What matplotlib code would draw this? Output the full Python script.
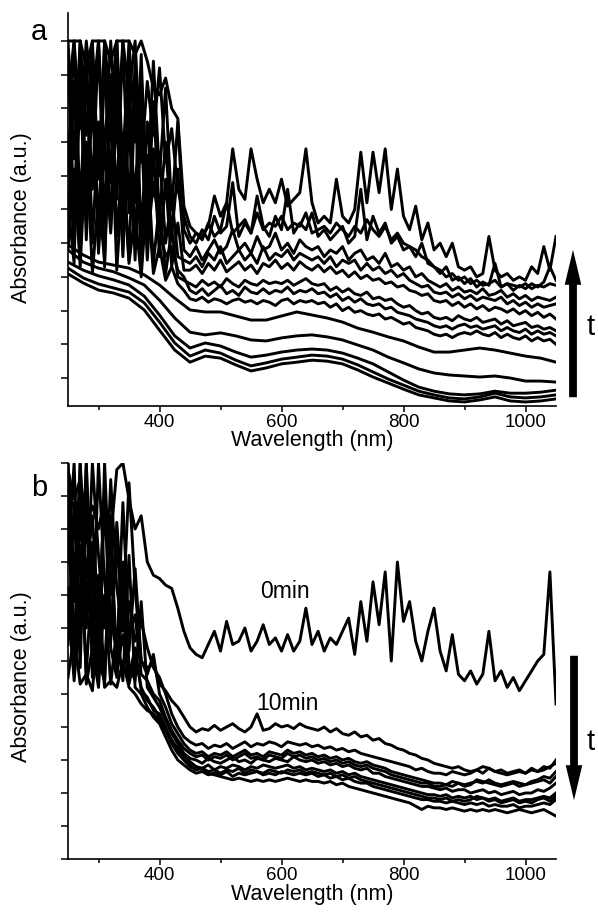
import matplotlib

matplotlib.use("Agg")
import matplotlib.pyplot as plt
from matplotlib.patches import FancyArrowPatch

plt.rcParams["font.family"] = ["Liberation Sans", "DejaVu Sans"]

# wavelength grids (nm)
WL = list(range(250, 1051, 10))
WL_COARSE = list(range(250, 1051, 25))

# ---- panel a: absorbance (a.u., one unit = one y tick), growing with time ----
# smoother low-absorbance spectra, sampled every 25 nm
a_early_1 = [3.09, 2.82, 2.61, 2.52, 2.37, 2.02, 1.42, 0.83, 0.47, 0.65, 0.59, 0.39, 0.21,
             0.30, 0.42, 0.47, 0.53, 0.50, 0.42, 0.24, 0.03, -0.15, -0.33, -0.50, -0.59,
             -0.68, -0.71, -0.65, -0.56, -0.68, -0.71, -0.68, -0.62]
a_early_2 = [3.26, 2.97, 2.79, 2.67, 2.55, 2.23, 1.66, 1.04, 0.65, 0.83, 0.74, 0.53, 0.36,
             0.45, 0.56, 0.62, 0.68, 0.65, 0.56, 0.39, 0.18, -0.03, -0.21, -0.39, -0.50,
             -0.59, -0.62, -0.56, -0.45, -0.56, -0.59, -0.56, -0.50]
a_early_3 = [3.44, 3.20, 3.03, 2.91, 2.76, 2.43, 1.87, 1.25, 0.89, 1.04, 0.95, 0.77, 0.62,
             0.68, 0.77, 0.83, 0.86, 0.83, 0.74, 0.59, 0.42, 0.18, -0.06, -0.27, -0.39,
             -0.47, -0.50, -0.47, -0.39, -0.45, -0.45, -0.42, -0.36]
a_early_4 = [3.80, 3.44, 3.26, 3.15, 2.97, 2.76, 2.31, 1.78, 1.36, 1.28, 1.34, 1.25, 1.13,
             1.10, 1.19, 1.25, 1.28, 1.22, 1.13, 0.98, 0.83, 0.62, 0.45, 0.27, 0.15,
             0.09, 0.06, 0.03, 0.06, 0.00, -0.09, -0.09, -0.12]
a_early_5 = [3.95, 3.65, 3.44, 3.35, 3.26, 3.06, 2.76, 2.37, 2.02, 1.96, 1.96, 1.84, 1.72,
             1.72, 1.84, 1.96, 1.87, 1.78, 1.66, 1.48, 1.36, 1.22, 1.10, 0.92, 0.77,
             0.77, 0.83, 0.89, 0.83, 0.74, 0.65, 0.59, 0.47]

# noisy later spectra, sampled every 10 nm
a_late_1 = [3.8, 6.2, 3.3, 7.0, 3.1, 5.4, 3.5, 8.2, 3.2, 6.1, 3.4, 4.9, 3.0, 5.6, 3.1, 3.9, 2.9, 3.3, 2.8, 2.6,
            2.35, 2.3, 2.4, 2.25, 2.35, 2.3, 2.2, 2.3, 2.35, 2.25, 2.3, 2.2, 2.3, 2.25, 2.15, 2.3, 2.35, 2.2, 2.3, 2.25, 2.3,
            2.2, 2.25, 2.1, 2.2, 2.0, 2.1, 1.95, 2.0, 1.9, 1.85, 1.9, 1.75, 1.8, 1.7, 1.6, 1.65, 1.5, 1.45, 1.4, 1.3,
            1.25, 1.3, 1.2, 1.3, 1.35, 1.3, 1.4, 1.3, 1.25, 1.35, 1.2, 1.3, 1.2, 1.15, 1.25, 1.1, 1.2, 1.1, 1.15, 1.0]
a_late_2 = [7.2, 3.9, 8.6, 4.6, 9.8, 3.7, 6.9, 4.3, 9.1, 3.8, 7.7, 3.5, 8.3, 4.0, 5.8, 4.5, 3.6, 3.9, 3.2, 3.0,
            2.6, 2.5, 2.65, 2.45, 2.6, 2.75, 2.5, 2.6, 2.45, 2.7, 2.55, 2.5, 2.65, 2.5, 2.6, 2.55, 2.7, 2.5, 2.6, 2.55, 2.65,
            2.5, 2.55, 2.4, 2.5, 2.3, 2.4, 2.25, 2.35, 2.2, 2.15, 2.2, 2.05, 2.1, 1.95, 1.9, 1.85, 1.75, 1.7, 1.65, 1.55,
            1.5, 1.55, 1.45, 1.55, 1.6, 1.5, 1.55, 1.45, 1.5, 1.55, 1.4, 1.5, 1.4, 1.35, 1.45, 1.3, 1.4, 1.3, 1.35, 1.25]
a_late_3 = [4.5, 8.8, 3.6, 9.5, 4.0, 7.6, 3.3, 9.0, 4.2, 6.8, 3.5, 8.5, 3.2, 6.6, 3.4, 5.2, 3.1, 4.4, 3.0, 2.9,
            2.8, 2.7, 2.9, 2.75, 2.85, 2.7, 2.95, 2.8, 2.7, 2.9, 2.8, 2.75, 2.9, 2.8, 2.85, 2.8, 2.9, 2.75, 2.85, 2.95, 2.8,
            2.75, 2.8, 2.6, 2.7, 2.55, 2.65, 2.5, 2.45, 2.55, 2.35, 2.4, 2.3, 2.35, 2.2, 2.1, 2.15, 2.0, 1.9, 1.95, 1.8,
            1.75, 1.8, 1.7, 1.85, 1.75, 1.7, 1.8, 1.65, 1.7, 1.75, 1.6, 1.7, 1.55, 1.6, 1.65, 1.5, 1.55, 1.45, 1.5, 1.4]
a_late_4 = [5.2, 3.4, 9.8, 4.1, 8.4, 3.8, 10.0, 4.4, 7.9, 3.6, 9.2, 4.0, 7.4, 3.5, 6.8, 3.6, 5.9, 3.3, 4.6, 3.2,
            3.2, 3.35, 3.1, 3.4, 3.2, 3.5, 3.15, 3.3, 3.45, 3.2, 3.35, 3.1, 3.4, 3.3, 3.5, 3.25, 3.4, 3.2, 3.45, 3.3, 3.2,
            3.35, 3.15, 3.3, 3.1, 3.2, 3.0, 3.15, 2.95, 3.05, 2.9, 2.95, 2.8, 2.85, 2.7, 2.75, 2.6, 2.55, 2.45, 2.5, 2.3,
            2.25, 2.3, 2.15, 2.25, 2.1, 2.2, 2.05, 2.15, 2.0, 2.1, 2.05, 1.95, 2.05, 1.9, 2.0, 1.85, 1.95, 1.8, 1.9, 1.75]
a_late_5 = [8.4, 10.0, 5.0, 9.2, 5.6, 10.0, 4.6, 8.8, 5.3, 10.0, 4.9, 9.4, 4.2, 7.6, 5.4, 6.6, 4.0, 5.4, 3.6, 3.5,
            3.4, 3.6, 3.3, 3.7, 3.5, 3.9, 3.4, 3.6, 3.8, 3.5, 3.7, 3.4, 3.9, 3.5, 3.7, 3.6, 3.8, 3.5, 3.7, 3.6, 3.5,
            3.6, 3.4, 3.6, 3.3, 3.5, 3.4, 3.5, 3.2, 3.4, 3.2, 3.3, 3.1, 3.2, 3.0, 3.1, 2.9, 2.8, 2.7, 2.75, 2.55,
            2.5, 2.55, 2.4, 2.5, 2.35, 2.45, 2.3, 2.4, 2.35, 2.3, 2.4, 2.2, 2.3, 2.15, 2.25, 2.1, 2.2, 2.1, 2.15, 2.2]
a_late_6 = [9.6, 4.8, 10.0, 5.5, 9.0, 4.2, 9.4, 5.8, 10.0, 4.6, 8.0, 5.2, 9.6, 4.4, 8.2, 4.8, 7.0, 4.2, 6.2, 3.8,
            3.6, 3.9, 3.5, 3.8, 4.1, 3.7, 3.9, 4.4, 3.8, 4.0, 3.7, 4.2, 3.8, 3.9, 4.3, 3.8, 4.0, 3.7, 4.1, 3.9, 3.8,
            3.9, 3.6, 3.8, 3.7, 3.9, 3.5, 3.7, 3.8, 3.5, 3.6, 3.4, 3.7, 3.3, 3.4, 3.2, 3.3, 3.0, 3.1, 2.9, 2.8,
            2.7, 2.8, 2.6, 2.7, 2.55, 2.6, 2.5, 2.65, 2.45, 2.5, 2.6, 2.4, 2.5, 2.35, 2.45, 2.3, 2.4, 2.35, 2.3, 2.4]
a_late_7 = [6.0, 10.0, 7.4, 10.0, 8.2, 10.0, 6.6, 10.0, 7.0, 10.0, 8.4, 10.0, 6.4, 8.8, 7.2, 9.2, 6.4, 7.4, 5.6, 4.8,
            4.2, 4.0, 4.4, 4.1, 4.8, 4.3, 4.5, 5.8, 4.2, 4.6, 4.3, 5.4, 4.5, 4.2, 4.8, 4.4, 5.6, 4.3, 4.6, 4.4, 4.9,
            4.2, 4.4, 4.1, 4.3, 4.5, 4.0, 4.2, 5.6, 4.1, 4.8, 4.3, 4.6, 4.0, 4.2, 3.8, 3.9, 3.6, 4.0, 3.4, 3.3,
            3.1, 3.3, 2.9, 3.0, 2.8, 2.95, 2.7, 2.85, 2.75, 3.4, 2.7, 2.8, 2.6, 2.75, 2.65, 2.8, 2.7, 2.85, 3.3, 2.9]
a_late_8 = [10.0, 6.5, 10.0, 7.2, 10.0, 5.9, 10.0, 8.0, 10.0, 6.4, 10.0, 7.0, 9.0, 5.6, 9.4, 6.0, 8.6, 5.0, 7.6, 4.4,
            4.0, 4.3, 4.1, 4.6, 4.2, 4.4, 5.2, 4.3, 4.5, 4.7, 4.3, 4.9, 4.4, 4.6, 4.5, 4.8, 4.4, 4.6, 4.5, 4.9, 4.3,
            4.4, 4.5, 4.3, 4.6, 4.4, 4.2, 4.5, 4.3, 4.7, 4.4, 4.2, 4.5, 4.1, 4.3, 4.0, 3.9, 3.8, 3.6, 3.5, 3.3,
            3.2, 3.0, 3.1, 2.9, 3.0, 2.8, 2.9, 2.75, 2.8, 2.9, 2.7, 2.8, 2.75, 2.7, 2.8, 2.65, 2.75, 2.7, 2.8, 2.75]
a_late_9 = [10.0, 10.0, 10.0, 9.2, 10.0, 10.0, 10.0, 9.4, 10.0, 10.0, 10.0, 9.6, 10.0, 9.4, 8.6, 8.4, 8.9, 8.0, 7.7, 5.1,
            4.5, 4.3, 4.2, 4.5, 5.4, 4.8, 5.2, 6.8, 5.6, 5.3, 6.8, 5.9, 5.2, 5.6, 5.2, 5.9, 5.1, 5.3, 5.5, 6.8, 5.2,
            4.6, 4.8, 4.6, 5.9, 4.8, 4.6, 5.0, 6.7, 5.2, 6.7, 5.5, 6.8, 5.0, 6.2, 4.8, 4.4, 5.1, 4.1, 4.6, 3.8,
            4.0, 3.6, 4.0, 3.3, 3.2, 3.3, 3.0, 3.1, 4.2, 3.2, 3.0, 3.1, 2.9, 3.0, 2.9, 3.3, 3.1, 3.9, 3.2, 4.2]

# ---- panel b: absorbance (a.u., one unit = one y tick), falling with time ----
b_0min = [11.8, 10.9, 11.5, 10.3, 10.7, 10.0, 10.9, 9.7, 11.8, 12.0, 10.9, 10.0, 10.4, 9.0, 8.6, 8.5, 8.3, 8.2, 7.6, 6.9,
          6.4, 6.2, 6.1, 6.5, 6.9, 6.3, 7.2, 6.5, 6.6, 7.0, 6.3, 6.6, 7.1, 6.5, 6.7, 6.3, 6.8, 6.3, 6.6, 7.6, 6.5,
          6.9, 6.3, 6.7, 6.5, 6.9, 7.3, 6.2, 7.8, 6.6, 8.4, 7.1, 8.7, 6.0, 9.0, 7.2, 7.8, 6.6, 6.0, 6.9, 7.6,
          6.3, 5.7, 6.8, 5.6, 5.4, 5.7, 5.3, 5.6, 6.9, 5.4, 5.7, 5.2, 5.5, 5.1, 5.4, 5.7, 6.0, 6.2, 8.7, 4.7]
b_10min = [11.5, 7.8, 12.0, 8.5, 10.4, 7.2, 11.0, 8.0, 9.4, 7.5, 11.4, 8.2, 6.0, 5.8, 5.9, 5.3, 5.1, 4.8, 4.6, 4.3,
           4.0, 3.85, 3.95, 3.9, 4.05, 3.9, 4.0, 4.1, 3.95, 3.85, 4.0, 4.4, 3.9, 3.95, 4.1, 4.0, 4.05, 3.95, 4.1, 4.0, 3.95,
           3.9, 4.0, 3.85, 3.95, 3.8, 3.75, 3.85, 3.7, 3.75, 3.6, 3.65, 3.5, 3.45, 3.35, 3.3, 3.2, 3.15, 3.05, 3.0, 2.9,
           2.85, 2.8, 2.75, 2.8, 2.7, 2.65, 2.7, 2.6, 2.75, 2.65, 2.7, 2.6, 2.65, 2.7, 2.6, 2.75, 2.65, 2.7, 2.8, 2.9]
b_later_1 = [12.0, 8.5, 11.2, 7.4, 12.0, 9.2, 7.0, 11.5, 8.2, 6.9, 7.8, 6.6, 7.2, 6.4, 5.8, 5.5, 5.0, 4.4, 4.0, 3.7,
             3.55, 3.45, 3.5, 3.35, 3.45, 3.4, 3.5, 3.35, 3.45, 3.55, 3.4, 3.5, 3.45, 3.55, 3.5, 3.4, 3.55, 3.5, 3.45, 3.5, 3.4,
             3.45, 3.35, 3.4, 3.3, 3.35, 3.25, 3.3, 3.2, 3.15, 3.1, 3.05, 3.0, 2.95, 2.9, 2.85, 2.8, 2.7, 2.75, 2.65, 2.6,
             2.6, 2.55, 2.65, 2.6, 2.55, 2.6, 2.7, 2.8, 2.75, 2.65, 2.6, 2.55, 2.6, 2.65, 2.6, 2.7, 2.65, 2.8, 2.75, 3.0]
b_later_2 = [9.0, 12.0, 6.8, 10.5, 6.5, 12.0, 8.4, 6.6, 10.2, 7.5, 6.3, 8.8, 6.0, 5.6, 6.2, 5.0, 4.6, 4.1, 3.8, 3.5,
             3.3, 3.2, 3.25, 3.1, 3.2, 3.15, 3.25, 3.1, 3.2, 3.3, 3.15, 3.2, 3.1, 3.25, 3.2, 3.15, 3.3, 3.2, 3.25, 3.15, 3.2,
             3.1, 3.15, 3.05, 3.1, 3.0, 3.05, 2.95, 2.9, 2.95, 2.85, 2.8, 2.75, 2.65, 2.6, 2.55, 2.5, 2.45, 2.4, 2.35, 2.3,
             2.3, 2.25, 2.35, 2.3, 2.25, 2.3, 2.35, 2.3, 2.4, 2.3, 2.25, 2.3, 2.35, 2.3, 2.25, 2.35, 2.4, 2.5, 2.45, 2.65]
b_later_3 = [10.5, 6.0, 12.0, 7.0, 9.6, 5.8, 12.0, 7.4, 6.2, 10.8, 6.8, 7.4, 5.6, 5.4, 5.0, 4.8, 4.3, 3.9, 3.6, 3.35,
             3.2, 3.1, 3.15, 3.0, 3.1, 3.05, 3.15, 3.0, 3.1, 3.2, 3.05, 3.1, 3.0, 3.15, 3.1, 3.05, 3.2, 3.1, 3.15, 3.05, 3.1,
             3.0, 3.05, 2.95, 3.0, 2.9, 2.95, 2.85, 2.8, 2.85, 2.75, 2.7, 2.65, 2.55, 2.5, 2.45, 2.4, 2.35, 2.3, 2.3, 2.2,
             2.2, 2.25, 2.2, 2.3, 2.2, 2.25, 2.4, 2.35, 2.3, 2.25, 2.2, 2.25, 2.3, 2.2, 2.25, 2.3, 2.35, 2.4, 2.3, 2.5]
b_later_4 = [6.5, 10.8, 5.8, 12.0, 7.2, 5.6, 11.0, 6.4, 5.5, 9.0, 5.9, 5.4, 7.8, 5.2, 4.9, 4.6, 4.2, 3.8, 3.5, 3.2,
             3.05, 3.0, 2.9, 3.05, 2.95, 2.9, 3.0, 3.1, 2.95, 3.0, 2.9, 3.05, 3.0, 2.95, 3.05, 3.0, 2.95, 3.1, 3.0, 2.95, 3.0,
             2.9, 2.95, 2.85, 2.9, 2.8, 2.85, 2.75, 2.7, 2.75, 2.6, 2.6, 2.5, 2.45, 2.4, 2.35, 2.3, 2.25, 2.2, 2.2, 2.15,
             2.1, 2.15, 2.05, 2.1, 2.1, 2.0, 2.05, 2.1, 2.0, 2.05, 1.95, 2.0, 2.05, 1.95, 2.0, 2.0, 2.1, 2.05, 2.15, 2.3]
b_later_5 = [12.0, 6.2, 9.5, 5.6, 8.8, 6.0, 5.4, 9.8, 5.6, 6.8, 5.3, 6.2, 5.2, 4.8, 4.6, 4.3, 3.9, 3.5, 3.2, 3.0,
             2.85, 2.8, 2.75, 2.85, 2.7, 2.8, 2.75, 2.85, 2.8, 2.7, 2.8, 2.75, 2.85, 2.8, 2.75, 2.8, 2.85, 2.75, 2.8, 2.7, 2.75,
             2.7, 2.65, 2.7, 2.6, 2.65, 2.55, 2.6, 2.5, 2.45, 2.4, 2.35, 2.3, 2.25, 2.2, 2.15, 2.1, 2.05, 2.0, 1.95, 1.95,
             1.9, 1.95, 1.85, 1.9, 1.85, 1.9, 1.8, 1.85, 1.8, 1.85, 1.75, 1.8, 1.85, 1.75, 1.8, 1.8, 1.85, 1.9, 1.85, 2.0]
b_later_6 = [8.2, 5.4, 7.6, 12.0, 5.5, 8.6, 5.3, 10.4, 5.6, 7.8, 5.5, 6.4, 5.1, 4.9, 4.5, 4.4, 4.0, 3.6, 3.3, 3.0,
             2.8, 2.7, 2.75, 2.65, 2.7, 2.6, 2.7, 2.65, 2.75, 2.6, 2.7, 2.65, 2.6, 2.7, 2.65, 2.6, 2.7, 2.65, 2.7, 2.6, 2.65,
             2.6, 2.55, 2.6, 2.5, 2.55, 2.45, 2.5, 2.4, 2.35, 2.3, 2.25, 2.2, 2.15, 2.1, 2.05, 2.0, 1.95, 1.9, 1.85, 1.85,
             1.8, 1.85, 1.75, 1.8, 1.75, 1.8, 1.9, 1.85, 1.75, 1.8, 1.7, 1.75, 1.8, 1.7, 1.75, 1.7, 1.8, 1.85, 1.75, 1.9]
b_later_7 = [7.5, 5.6, 11.0, 5.3, 6.4, 5.2, 8.0, 5.3, 7.0, 5.4, 9.2, 5.2, 5.0, 4.6, 4.3, 4.1, 3.7, 3.3, 3.0, 2.85,
             2.7, 2.6, 2.65, 2.55, 2.6, 2.55, 2.65, 2.5, 2.6, 2.55, 2.6, 2.65, 2.55, 2.6, 2.55, 2.65, 2.6, 2.55, 2.6, 2.55, 2.6,
             2.5, 2.55, 2.45, 2.5, 2.4, 2.45, 2.35, 2.3, 2.3, 2.2, 2.15, 2.1, 2.05, 2.0, 1.95, 1.9, 1.85, 1.8, 1.8, 1.75,
             1.75, 1.7, 1.75, 1.7, 1.65, 1.7, 1.65, 1.7, 1.6, 1.65, 1.6, 1.6, 1.65, 1.55, 1.6, 1.6, 1.65, 1.7, 1.65, 1.8]
b_later_8 = [5.5, 6.8, 5.3, 5.6, 5.1, 7.2, 5.2, 5.4, 5.2, 6.0, 5.2, 5.0, 4.7, 4.5, 4.4, 4.2, 3.9, 3.6, 3.35, 3.1,
             2.95, 2.8, 2.7, 2.6, 2.55, 2.5, 2.45, 2.4, 2.45, 2.4, 2.35, 2.4, 2.35, 2.4, 2.35, 2.4, 2.45, 2.4, 2.35, 2.4, 2.35,
             2.35, 2.3, 2.35, 2.25, 2.3, 2.2, 2.15, 2.1, 2.05, 2.0, 1.95, 1.9, 1.85, 1.8, 1.75, 1.7, 1.6, 1.5, 1.6, 1.55,
             1.55, 1.5, 1.55, 1.5, 1.45, 1.5, 1.45, 1.5, 1.45, 1.5, 1.45, 1.4, 1.45, 1.5, 1.45, 1.4, 1.45, 1.5, 1.4, 1.3]

X_MAJOR = [400, 600, 800, 1000]
X_MINOR = [300, 500, 700, 900]

W, H = 598, 924
LINE = dict(color="black", linewidth=2.1)


def style_axes(ax, ylim, nticks):
    ax.set_xlim(250, 1050)
    ax.set_ylim(*ylim)
    ax.set_xticks(X_MAJOR)
    ax.set_xticks(X_MINOR, minor=True)
    ax.set_yticks(range(nticks + 1))
    ax.set_yticklabels([])
    for side in ("top", "right"):
        ax.spines[side].set_visible(False)
    for side in ("left", "bottom"):
        ax.spines[side].set_linewidth(1.2)
    ax.tick_params(axis="x", which="major", length=4.5, width=1.1, labelsize=13.5, pad=1.5)
    ax.tick_params(axis="x", which="minor", length=3, width=1.1)
    ax.tick_params(axis="y", which="major", length=5, width=1.1)
    ax.set_xlabel("Wavelength (nm)", fontsize=15.5)
    ax.set_ylabel("Absorbance (a.u.)", fontsize=15.5)


def arrow(fig, x, y_tail, y_tip):
    # pixel coordinates measured from the top of the image
    fig.add_artist(FancyArrowPatch(
        (x, H - y_tail), (x, H - y_tip), transform=None,
        arrowstyle="simple,head_width=0.85,head_length=1.8,tail_width=0.4",
        mutation_scale=14, color="black", linewidth=0))


def main():
    fig = plt.figure(figsize=(W / 100, H / 100), dpi=100)

    ax_a = fig.add_axes([68 / W, 1 - 406 / H, 488 / W, 393 / H])
    ax_b = fig.add_axes([68 / W, 1 - 859 / H, 488 / W, 396 / H])

    for y in (a_early_1, a_early_2, a_early_3, a_early_4, a_early_5):
        ax_a.plot(WL_COARSE, y, **LINE)
    for y in (a_late_1, a_late_2, a_late_3, a_late_4, a_late_5,
              a_late_6, a_late_7, a_late_8, a_late_9):
        ax_a.plot(WL, y, **LINE)
    style_axes(ax_a, (-0.83, 10.83), 10)

    for y in (b_0min, b_10min, b_later_1, b_later_2, b_later_3,
              b_later_4, b_later_5, b_later_6, b_later_7, b_later_8):
        ax_b.plot(WL, y, **LINE)
    style_axes(ax_b, (0, 12), 12)

    ax_a.xaxis.set_label_coords(0.5, -0.062)
    ax_b.xaxis.set_label_coords(0.5, -0.064)
    ax_a.yaxis.set_label_coords(-0.074, 0.48)
    ax_b.yaxis.set_label_coords(-0.074, 0.46)

    fig.text(31 / W, 1 - 40 / H, "a", fontsize=21, ha="left", va="baseline")
    fig.text(31 / W, 1 - 496 / H, "b", fontsize=21, ha="left", va="baseline")

    fig.text(285 / W, 1 - 591 / H, "0min", fontsize=16.5, ha="center", va="center")
    fig.text(287 / W, 1 - 704 / H, "10min", fontsize=16.5, ha="center", va="center")

    arrow(fig, 573, 400, 247)
    arrow(fig, 574, 653, 803)
    fig.text(591 / W, 1 - 327 / H, "t", fontsize=21, ha="center", va="center")
    fig.text(591 / W, 1 - 742 / H, "t", fontsize=21, ha="center", va="center")

    fig.savefig("out.png", dpi=100)
    plt.close(fig)


if __name__ == "__main__":
    main()
